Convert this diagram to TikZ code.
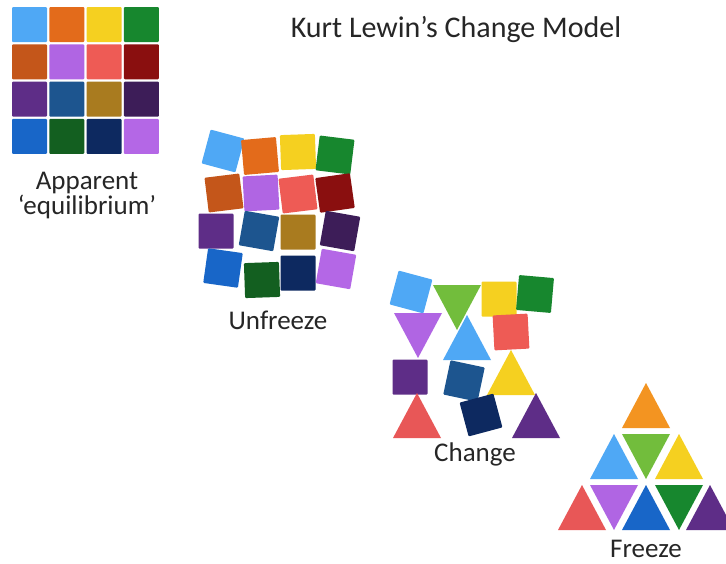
\documentclass[tikz,border=0pt]{standalone}
\usepackage{fontspec}
\setmainfont{Carlito}
\usepackage{tikz}

% tile colours
\definecolor{skyblue}{HTML}{4FA8F5}
\definecolor{tileorange}{HTML}{E36B1B}
\definecolor{tileyellow}{HTML}{F5D020}
\definecolor{tilegreen}{HTML}{17872E}
\definecolor{burnt}{HTML}{C4561A}
\definecolor{lavender}{HTML}{B065E3}
\definecolor{salmon}{HTML}{EE5B55}
\definecolor{darkred}{HTML}{8A0F0F}
\definecolor{tilepurple}{HTML}{5E2D87}
\definecolor{steelblue}{HTML}{1D558F}
\definecolor{ochre}{HTML}{A97B1F}
\definecolor{darkpurple}{HTML}{3D1D58}
\definecolor{tileblue}{HTML}{1866C8}
\definecolor{darkgreen}{HTML}{135F20}
\definecolor{navy}{HTML}{0D2960}
\definecolor{lightpurple}{HTML}{B467E6}
\definecolor{lime}{HTML}{72BD3C}
\definecolor{amber}{HTML}{F39421}
\definecolor{coral}{HTML}{E85757}

% square tile: centre x, centre y, turn, colour
\newcommand{\tilesq}[4]{\fill[#4, rounded corners=1pt, shift={(#1,#2)}, rotate=#3] (-17.5,-17.5) rectangle (17.5,17.5);}
% triangle pointing up: apex x, apex y, colour
\newcommand{\tileup}[3]{\fill[#3] (#1,#2) -- ++(24,45) -- ++(-48,0) -- cycle;}
% triangle pointing down: top centre x, top y, colour
\newcommand{\tiledown}[3]{\fill[#3] (#1,#2) ++(-24,0) -- ++(48,0) -- ++(-24,45) -- cycle;}

\begin{document}
\begin{tikzpicture}[
    x=1pt, y=-1pt,
    % Labels
    caption/.style={font=\fontsize{27}{30}\selectfont, anchor=base, text=black!85, inner sep=0pt},
    heading/.style={font=\fontsize{30}{33}\selectfont, anchor=base, text=black!85, inner sep=0pt}
]
    \useasboundingbox[fill=white] (0,0) rectangle (726,563);

    % Title
    \node[heading] (title) at (456,37) {Kurt Lewin’s Change Model};

    % Apparent equilibrium (grid)
    \foreach \col [count=\i from 0] in {skyblue,tileorange,tileyellow,tilegreen,
        burnt,lavender,salmon,darkred,
        tilepurple,steelblue,ochre,darkpurple,
        tileblue,darkgreen,navy,lightpurple}{
        \pgfmathtruncatemacro{\cx}{mod(\i,4)}
        \pgfmathtruncatemacro{\cy}{div(\i,4)}
        \tilesq{29.5+37.3*\cx}{24.5+37.3*\cy}{0}{\col}
    }
    \node[caption] (apparent) at (87,189) {Apparent};
    \node[caption] (equilibrium) at (87,214) {‘equilibrium’};

    % Unfreeze
    \tilesq{223}{151}{-15}{skyblue}
    \tilesq{260}{156}{5}{tileorange}
    \tilesq{298}{152}{2}{tileyellow}
    \tilesq{335}{155}{-7}{tilegreen}
    \tilesq{224}{193}{7}{burnt}
    \tilesq{261}{193}{3}{lavender}
    \tilesq{298}{194}{7}{salmon}
    \tilesq{335}{193}{8}{darkred}
    \tilesq{216}{231}{0}{tilepurple}
    \tilesq{259}{231}{-10}{steelblue}
    \tilesq{298}{232}{0}{ochre}
    \tilesq{340}{231}{-10}{darkpurple}
    \tilesq{223}{268}{-8}{tileblue}
    \tilesq{262}{280}{2}{darkgreen}
    \tilesq{298}{273}{0}{navy}
    \tilesq{336}{269}{-10}{lightpurple}
    \node[caption] (unfreeze) at (278,329) {Unfreeze};

    % Change
    \tilesq{411}{292}{-15}{skyblue}
    \tiledown{457}{285}{lime}
    \tilesq{499}{299}{0}{tileyellow}
    \tilesq{535}{294}{-5}{tilegreen}
    \tiledown{418}{313}{lavender}
    \tileup{467}{315}{skyblue}
    \tilesq{511}{332}{3}{salmon}
    \tilesq{410}{377}{0}{tilepurple}
    \tilesq{464}{381}{-12}{steelblue}
    \tileup{511}{350}{tileyellow}
    \tileup{417}{393}{coral}
    \tilesq{481}{415}{15}{navy}
    \tileup{536}{393}{tilepurple}
    \node[caption] (change) at (475,461) {Change};

    % Freeze
    \tileup{646}{383}{amber}
    \tileup{614}{434}{skyblue}
    \tiledown{646}{434}{lime}
    \tileup{679}{434}{tileyellow}
    \tileup{582}{485}{coral}
    \tiledown{614}{485}{lavender}
    \tileup{646}{485}{tileblue}
    \tiledown{679}{485}{tilegreen}
    \tileup{710}{485}{tilepurple}
    \node[caption] (freeze) at (646,557) {Freeze};
\end{tikzpicture}
\end{document}
